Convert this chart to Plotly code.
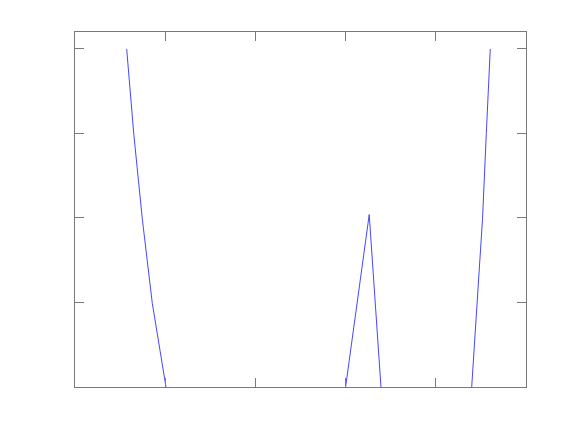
import plotly.graph_objects as go

# Data (gaps separate the visible pieces)
left_x = [0.573, 0.652, 0.746, 0.857, 1.009]
left_y = [4.0, 2.99, 1.99, 0.99, 0.0]
mid_x = [3.0, 3.262, 3.392]
mid_y = [0.0, 2.04, 0.0]
right_x = [4.398, 4.46, 4.518, 4.560, 4.604]
right_y = [0.0, 1.0, 1.99, 3.0, 4.0]

x_ticks = [0, 1, 2, 3, 4, 5]
y_ticks = [0, 1, 2, 3, 4]

xs = left_x + [None] + mid_x + [None] + right_x
ys = left_y + [None] + mid_y + [None] + right_y

fig = go.Figure()
fig.add_trace(go.Scatter(x=xs, y=ys, mode="lines", connectgaps=False,
                         line=dict(color="rgb(70,70,255)", width=1),
                         showlegend=False, hoverinfo="skip"))

axis_common = dict(showgrid=False, zeroline=False, showline=True, linecolor="#7a7a7a",
                   linewidth=1, mirror="ticks", ticks="inside", ticklen=9,
                   tickcolor="#7a7a7a", tickwidth=1, showticklabels=False)
fig.update_xaxes(range=[0, 5], tickvals=x_ticks, **axis_common)
fig.update_yaxes(range=[0, 4.2], tickvals=y_ticks, **axis_common)

fig.update_layout(width=582, height=436, margin=dict(l=67, r=64, t=24, b=57),
                  paper_bgcolor="white", plot_bgcolor="white")

fig.write_html("out.html")
